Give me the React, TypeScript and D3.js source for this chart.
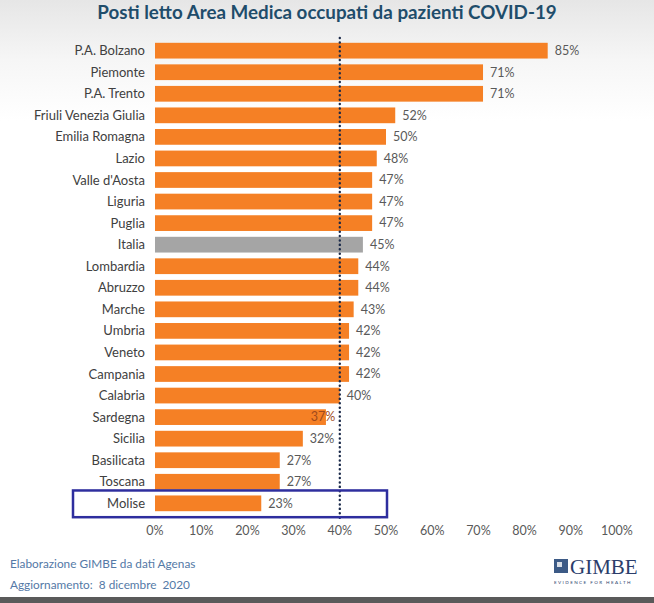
import React from "react";
import * as d3 from "d3";

const regions = [
  "P.A. Bolzano", "Piemonte", "P.A. Trento", "Friuli Venezia Giulia", "Emilia Romagna",
  "Lazio", "Valle d'Aosta", "Liguria", "Puglia", "Italia", "Lombardia", "Abruzzo",
  "Marche", "Umbria", "Veneto", "Campania", "Calabria", "Sardegna", "Sicilia",
  "Basilicata", "Toscana", "Molise",
];
const occupancy = [85, 71, 71, 52, 50, 48, 47, 47, 47, 45, 44, 44, 43, 42, 42, 42, 40, 37, 32, 27, 27, 23];
const xTicks = [0, 10, 20, 30, 40, 50, 60, 70, 80, 90, 100];
const threshold = 40;
const highlighted = "Molise";
const national = "Italia";

const W = 654;
const H = 603;

export default function App() {
  const x = d3.scaleLinear().domain([0, 100]).range([155, 617]);
  const y = d3.scaleBand<string>().domain(regions).range([40, 514]).paddingInner(0.27).paddingOuter(0.13);
  const bw = y.bandwidth();
  const font = "Lato, 'Open Sans', sans-serif";
  const lx = x(threshold);

  return (
    <div style={{ position: "absolute", left: 0, top: 0 }}>
      <svg width={W} height={H} style={{ display: "block" }} fontFamily={font}>
        <defs>
          <linearGradient id="bg" x1="0" y1="0" x2="0" y2="1">
            <stop offset="0" stopColor="#e6e6e6" />
            <stop offset="0.1" stopColor="#f6f6f6" />
            <stop offset="0.2" stopColor="#ffffff" />
            <stop offset="1" stopColor="#ffffff" />
          </linearGradient>
        </defs>
        <rect width={W} height={H} fill="url(#bg)" />
        <rect x={0} y={597} width={W} height={6} fill="#5a5a5a" />

        <text x={W / 2} y={19} textAnchor="middle" fontSize={18.8} fontWeight={700} fill="#1f4d6b">
          Posti letto Area Medica occupati da pazienti COVID-19
        </text>

        {regions.map((r, i) => {
          const v = occupancy[i];
          const yy = y(r)!;
          const cy = yy + bw / 2;
          const endX = x(v);
          let lxText = endX + 7;
          const labelW = 25;
          if (lxText < lx && lxText + labelW > lx) lxText = lx - labelW - 4;
          return (
            <g key={r}>
              <text x={145} y={cy} dy="0.35em" textAnchor="end" fontSize={13} fill="#404040">
                {r}
              </text>
              <rect
                x={x(0)}
                y={yy}
                width={endX - x(0)}
                height={bw}
                fill={r === national ? "#a5a5a5" : "#f58025"}
              />
              <text x={lxText} y={cy} dy="0.35em" fontSize={12.5} fill={r === "Sardegna" ? "#a04a1c" : "#595959"}>
                {v}%
              </text>
            </g>
          );
        })}

        <line x1={lx} x2={lx} y1={38} y2={520} stroke="#1a2a4a" strokeWidth={2.4} strokeLinecap="round" strokeDasharray="0.1 4.3" />

        {(() => {
          const yy = y(highlighted)!;
          return (
            <rect x={73} y={yy - 5} width={314} height={bw + 11} fill="none" stroke="#2e2e9e" strokeWidth={2.5} />
          );
        })()}

        {xTicks.map((t) => (
          <text key={t} x={x(t)} y={535} textAnchor="middle" fontSize={12.5} fill="#595959">
            {t}%
          </text>
        ))}

        <text x={10} y={568} fontSize={11.8} fill="#5479a6">
          Elaborazione GIMBE da dati Agenas
        </text>
        <text x={10} y={589} fontSize={11.8} fill="#5479a6" style={{ whiteSpace: "pre" }}>
          {"Aggiornamento:  8 dicembre  2020"}
        </text>

        <g>
          <rect x={554} y={559} width={14} height={14} fill="#3c5a86" />
          <rect x={557} y={562} width={5} height={5} fill="#ffffff" opacity={0.8} />
          <text x={570} y={574} fontSize={21} fontFamily="'Liberation Serif', 'DejaVu Serif', serif" fill="#2b3d6b">
            GIMBE
          </text>
          <text x={554} y={584} fontSize={4.6} letterSpacing={1.4} fill="#2b3d6b">
            EVIDENCE FOR HEALTH
          </text>
        </g>
      </svg>
    </div>
  );
}
